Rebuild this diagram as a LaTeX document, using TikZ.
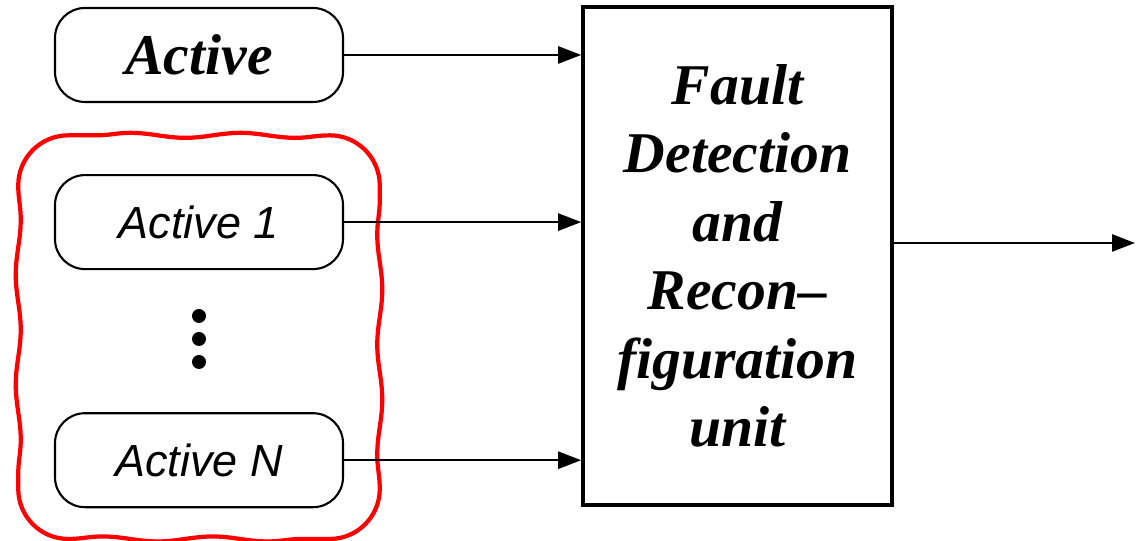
\documentclass[tikz,border=0pt]{standalone}
\usepackage{fontspec}
\setmainfont{Liberation Serif}
\setsansfont{Liberation Sans}
\usetikzlibrary{positioning,arrows.meta,fit,decorations.pathmorphing}

\begin{document}
\begin{tikzpicture}[>={Triangle[length=2.3mm,width=1.7mm]},
  unitbox/.style={draw, line width=0.6pt, rounded corners=0.3cm, minimum width=2.88cm, minimum height=0.94cm, inner sep=0pt},
  dot/.style={circle, fill, inner sep=0pt, minimum size=0.14cm},
  flow/.style={->, line width=0.7pt},
  redline/.style={red, line width=1.2pt, line join=round, decoration={snake, segment length=1.1cm, amplitude=0.025cm}}]
  \useasboundingbox (0,0) rectangle (11.45,5.41);
  \node[unitbox, font=\fontsize{16.4}{20}\selectfont\bfseries\itshape] (act) at (1.99,4.86) {Active};
  \node[unitbox, font=\fontsize{12.8}{15}\selectfont\sffamily\itshape, below=0.71cm of act] (a1) {Active 1};
  \node[unitbox, font=\fontsize{12.8}{15}\selectfont\sffamily\itshape, below=1.42cm of a1] (aN) {Active N};
  \foreach \i/\y in {1/2.25,2/2.02,3/1.79}
    \node[dot] (d\i) at (1.99,\y) {};
  % red group outline round the redundant actives
  \node[fit=(a1)(aN), inner xsep=0.35cm, inner ysep=0.34cm, yshift=0.04cm] (grp) {};
  \draw[redline] ([xshift=5mm]grp.south west)
    decorate {-- ([xshift=-5mm]grp.south east)}
    arc[start angle=-90, end angle=0, radius=5mm]
    decorate {-- ([yshift=-5mm]grp.north east)}
    arc[start angle=0, end angle=90, radius=5mm]
    decorate {-- ([xshift=5mm]grp.north west)}
    arc[start angle=90, end angle=180, radius=5mm]
    decorate {-- ([yshift=5mm]grp.south west)}
    arc[start angle=180, end angle=270, radius=5mm];
  \node[draw, line width=1pt, minimum width=3.09cm, minimum height=4.98cm, align=center,
    font=\fontsize{16.4}{19.5}\selectfont\bfseries\itshape] (fdr) at (7.375,2.85)
    {Fault\\Detection\\and\\Recon--\\figuration\\unit};
  \coordinate (out) at (11.35,2.98);
  \draw[flow] (act.east) -- (act -| fdr.west);
  \draw[flow] (a1.east) -- (a1 -| fdr.west);
  \draw[flow] (aN.east) -- (aN -| fdr.west);
  \draw[flow] (fdr.east |- out) -- (out);
\end{tikzpicture}
\end{document}
